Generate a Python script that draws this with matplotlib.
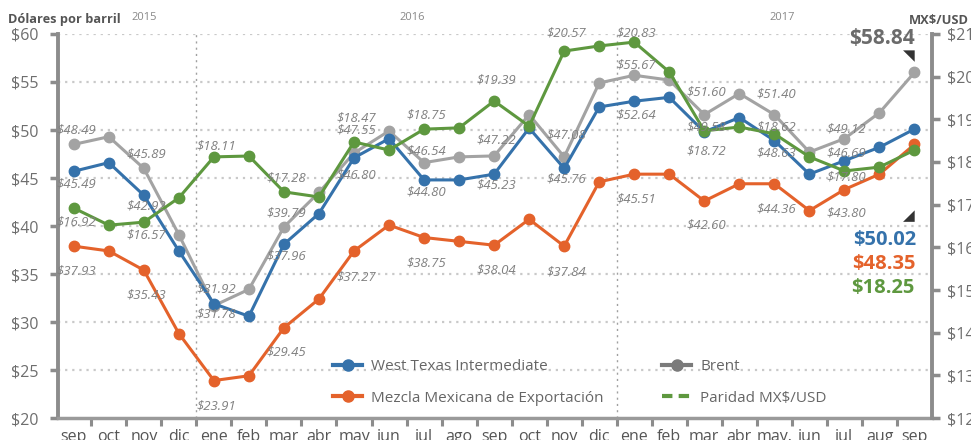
import matplotlib
matplotlib.use('Agg')
import matplotlib.pyplot as plt
from matplotlib.lines import Line2D

# ---------------- data ----------------
months = ['sep', 'oct', 'nov', 'dic', 'ene', 'feb', 'mar', 'abr', 'may', 'jun', 'jul', 'ago',
          'sep', 'oct', 'nov', 'dic', 'ene', 'feb', 'mar', 'abr', 'may.', 'jun', 'jul', 'aug', 'sep']
years = ['2015', '2016', '2017']

wti = [45.7, 46.6, 43.2, 37.4, 31.9, 30.6, 38.1, 41.3, 47.1, 49.1, 44.8, 44.8,
       45.4, 50.2, 46.0, 52.4, 53.0, 53.4, 49.8, 51.3, 48.9, 45.4, 46.8, 48.2, 50.1]
brent = [48.5, 49.3, 46.0, 39.1, 31.7, 33.4, 39.9, 43.5, 47.6, 49.9, 46.6, 47.2,
         47.3, 51.6, 47.2, 54.9, 55.7, 55.2, 51.6, 53.8, 51.6, 47.7, 49.1, 51.8, 56.0]
mezcla = [37.9, 37.4, 35.4, 28.8, 23.9, 24.4, 29.4, 32.4, 37.4, 40.1, 38.8, 38.4,
          38.0, 40.7, 37.9, 44.6, 45.4, 45.4, 42.6, 44.4, 44.4, 41.6, 43.8, 45.4, 48.5]
paridad = [16.92, 16.52, 16.59, 17.16, 18.12, 18.14, 17.30, 17.18, 18.47, 18.28, 18.77, 18.80,
           19.43, 18.84, 20.60, 20.72, 20.81, 20.11, 18.73, 18.82, 18.66, 18.12, 17.79, 17.88, 18.28]

label_texts = ['$48.49', '$45.49', '$16.92', '$37.93',
               '$45.89', '$42.92', '$16.57', '$35.43',
               '$18.11', '$31.92', '$31.78', '$23.91',
               '$17.28', '$39.79', '$37.96', '$29.45',
               '$18.47', '$47.55', '$46.80', '$37.27',
               '$18.75', '$46.54', '$44.80', '$38.75',
               '$19.39', '$47.22', '$45.23', '$38.04',
               '$20.57', '$47.08', '$45.76', '$37.84',
               '$20.83', '$55.67', '$52.64', '$45.51',
               '$51.60', '$49.58', '$18.72', '$42.60',
               '$51.40', '$18.62', '$48.63', '$44.36',
               '$49.12', '$46.69', '$17.80', '$43.80']
label_month = [0, 0, 0, 0, 2, 2, 2, 2, 4, 4, 4, 4, 6, 6, 6, 6, 8, 8, 8, 8, 10, 10, 10, 10,
               12, 12, 12, 12, 14, 14, 14, 14, 16, 16, 16, 16, 18, 18, 18, 18, 20, 20, 20, 20,
               22, 22, 22, 22]
label_y = [50.0, 44.4, 40.4, 35.3,
           47.5, 42.1, 39.1, 32.8,
           48.3, 33.4, 30.8, 21.3,
           45.0, 41.4, 36.9, 26.9,
           51.3, 50.0, 45.3, 34.7,
           51.6, 47.8, 43.5, 36.1,
           55.2, 49.0, 44.3, 35.4,
           60.1, 49.5, 44.9, 35.2,
           60.1, 56.8, 51.6, 42.8,
           54.0, 50.3, 47.8, 40.1,
           53.8, 50.3, 47.6, 41.8,
           50.1, 47.6, 45.1, 41.4]

final_values = ['$58.84', '$50.02', '$48.35', '$18.25']

series_names = ['West Texas Intermediate', 'Mezcla Mexicana de Exportación', 'Brent', 'Paridad MX$/USD']

# ---------------- style ----------------
BLUE = '#3572ab'
ORANGE = '#e4622b'
GRAY = '#a3a3a3'
GREEN = '#5e983f'
AXGRAY = '#8c8c8c'
TXT = '#6e6e6e'
FONT = 'Open Sans'

plt.rcParams['font.family'] = [FONT, 'DejaVu Sans']

fig = plt.figure(figsize=(9.71, 4.40), dpi=100)
ax = fig.add_axes([58 / 971, 22 / 440, (932 - 58) / 971, 384 / 440])
ax2 = ax.twinx()

x = list(range(len(months)))

# grid
for v in range(25, 61, 5):
    ax.axhline(v, color='#c9c9c9', lw=1.6, ls=(0, (1, 2.2)), zorder=0)
for b in (3.5, 15.5):
    ax.axvline(b, color='#a0a0a0', lw=1.0, ls=(0, (1.5, 3)), zorder=0)

lw = 2.2
ms = 7.5
ax.plot(x, brent, color=GRAY, lw=lw, marker='o', ms=ms, zorder=3)
ax.plot(x, mezcla, color=ORANGE, lw=lw, marker='o', ms=ms, zorder=3)
ax.plot(x, wti, color=BLUE, lw=lw, marker='o', ms=ms, zorder=4)
ax2.plot(x, paridad, color=GREEN, lw=lw, marker='o', ms=ms, zorder=5)

ax.set_xlim(-0.45, 24.5)
ax.set_ylim(20, 60)
ax2.set_ylim(12, 21)

# y axes
ax.set_yticks(range(20, 61, 5))
ax.set_yticklabels(['$%d' % v for v in range(20, 61, 5)])
ax2.set_yticks(range(12, 22))
ax2.set_yticklabels(['$%d' % v for v in range(12, 22)])
ax.tick_params(axis='y', length=6, width=2.5, color=AXGRAY, pad=8, labelsize=11.5, labelcolor=TXT)
ax2.tick_params(axis='y', length=6, width=2.5, color=AXGRAY, pad=5, labelsize=11.5, labelcolor=TXT)

# x axis
ax.set_xticks(x)
ax.set_xticklabels(months)
ax.set_xticks([i - 0.5 for i in range(1, len(months))], minor=True)
ax.tick_params(axis='x', which='major', length=0, pad=8, labelsize=11.5, labelcolor='#555555')
ax.tick_params(axis='x', which='minor', length=6, width=2.2, color=AXGRAY)

for a in (ax, ax2):
    a.spines['top'].set_visible(False)
    a.patch.set_visible(False)
ax.spines['right'].set_visible(False)
ax2.spines['left'].set_visible(False)
ax2.spines['bottom'].set_visible(False)
ax.spines['left'].set_color(AXGRAY)
ax.spines['left'].set_linewidth(2.8)
ax.spines['bottom'].set_color('#9a9a9a')
ax.spines['bottom'].set_linewidth(2.5)
ax2.spines['right'].set_color(AXGRAY)
ax2.spines['right'].set_linewidth(2.8)
ax2.set_zorder(ax.get_zorder() + 1)

# data labels
for m, yv, t in zip(label_month, label_y, label_texts):
    ax2.text(m - 0.5, 12 + (yv - 20) * 9 / 40, t, ha='left', va='center', fontsize=9.5,
             style='italic', color='#808080', zorder=6)

# titles
fig.text(8 / 971, 1 - 19 / 440, 'Dólares por barril', fontsize=9.2, fontweight='bold',
         color='#555555', ha='left', va='center')
fig.text(969 / 971, 1 - 20 / 440, 'MX$/USD', fontsize=9.3, fontweight='bold',
         color='#555555', ha='right', va='center')
for xp, yr in zip([144, 412, 782], years):
    fig.text(xp / 971, 1 - 17 / 440, yr, fontsize=8, color='#888888', ha='center', va='center')

# final values
fig.text(915 / 971, 1 - 39 / 440, final_values[0], fontsize=15, fontweight='bold',
         color='#6b6b6b', ha='right', va='center')
fig.text(916 / 971, 1 - 240 / 440, final_values[1], fontsize=14.5, fontweight='bold',
         color=BLUE, ha='right', va='center')
fig.text(916 / 971, 1 - 264 / 440, final_values[2], fontsize=14.5, fontweight='bold',
         color=ORANGE, ha='right', va='center')
fig.text(914 / 971, 1 - 288 / 440, final_values[3], fontsize=14.5, fontweight='bold',
         color=GREEN, ha='right', va='center')
fig.text(915 / 971, 1 - 56 / 440, '\u25E5', fontsize=11, color='#333333', ha='right',
         va='center', family='DejaVu Sans')
fig.text(915 / 971, 1 - 216 / 440, '\u25E2', fontsize=11, color='#333333', ha='right',
         va='center', family='DejaVu Sans')

# legend
h_wti = Line2D([], [], color=BLUE, lw=3, marker='o', ms=8)
h_mez = Line2D([], [], color=ORANGE, lw=3, marker='o', ms=8)
h_bre = Line2D([], [], color='#7a7a7a', lw=3, marker='o', ms=8)
h_par = Line2D([], [], color=GREEN, lw=3, ls=(0, (2.5, 1.5)))
leg = ax2.legend([h_wti, h_mez, h_bre, h_par], series_names, ncol=2, frameon=False,
                 loc='lower left', bbox_to_anchor=(0.308, 0.016), fontsize=11,
                 handlelength=1.9, handletextpad=0.6, columnspacing=3.8, labelspacing=1.08,
                 borderaxespad=0)
for t in leg.get_texts():
    t.set_color('#666666')

fig.savefig('out.png', dpi=100)
